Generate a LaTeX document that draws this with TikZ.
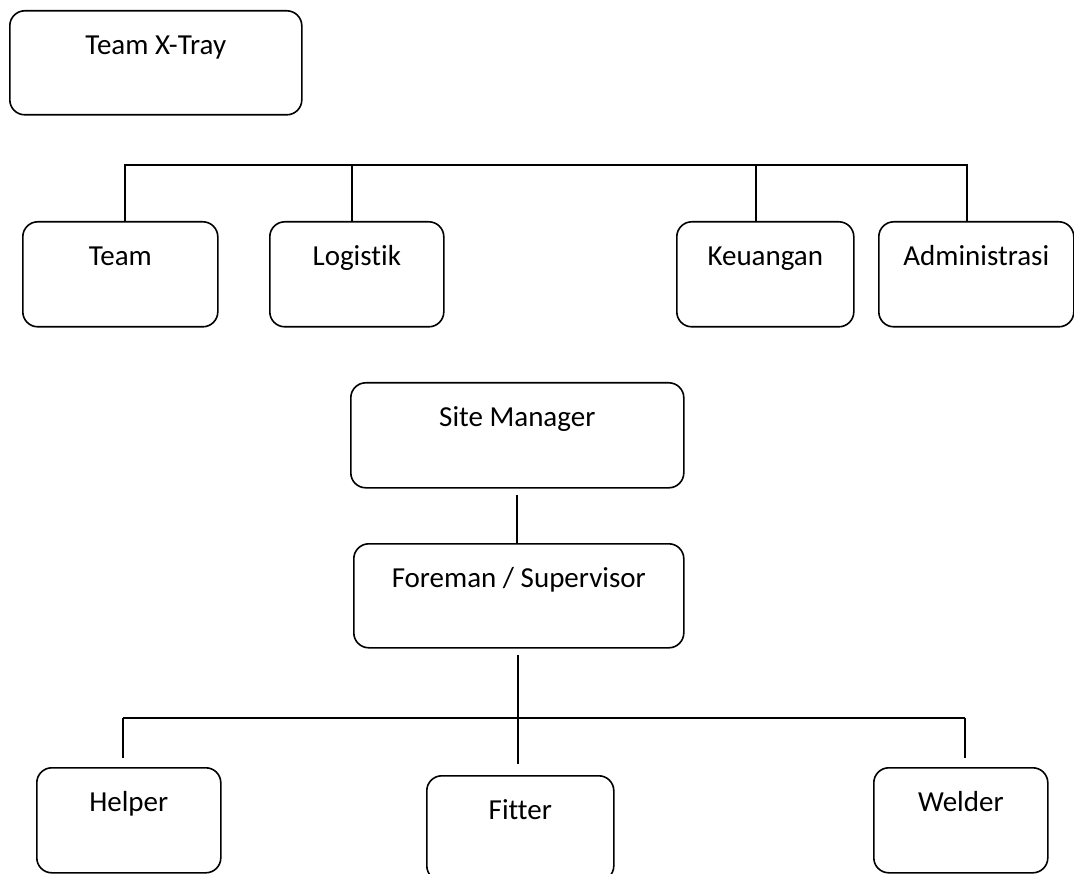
\documentclass[tikz,border=0pt]{standalone}
\usepackage{fontspec}
\setmainfont{Carlito}[Ligatures=NoCommon]
\begin{document}
\begin{tikzpicture}[x=1pt,y=-1pt,
  orgbox/.style={draw=black, line width=1.6pt, rounded corners=15pt, inner sep=0pt,
    anchor=north west, text height=44pt, text depth=61pt,
    font=\fontsize{29}{35}\selectfont},
  conn/.style={draw=black, line width=1.6pt}]
\useasboundingbox (0,0) rectangle (1074,874);
\fill[white] (0,0) rectangle (1074,874);
% boxes
\node[orgbox, minimum width=292pt, text depth=60pt] (xtray) at (9,10) {Team X-Tray};
\node[orgbox, minimum width=195pt] (team) at (22,221) {Team};
\node[orgbox, minimum width=174pt] (logistik) at (269,221) {Logistik};
\node[orgbox, minimum width=177pt] (keuangan) at (676,221) {Keuangan};
\node[orgbox, minimum width=195pt] (admin) at (878,221) {Administrasi};
\node[orgbox, minimum width=333pt] (site) at (350,382) {Site Manager};
\node[orgbox, minimum width=330pt, text depth=60pt] (foreman) at (353,543) {Foreman / Supervisor};
\node[orgbox, minimum width=184pt] (helper) at (36,767) {Helper};
\node[orgbox, minimum width=187pt] (fitter) at (426,775) {Fitter};
\node[orgbox, minimum width=174pt] (welder) at (873,767) {Welder};
% top bus
\coordinate (tA) at (125,165);
\coordinate (tB) at (352,165);
\coordinate (tC) at (756,165);
\coordinate (tD) at (967,165);
\draw[conn] (tA |- team.north) -- (tA) -- (tD) -- (tD |- admin.north);
\draw[conn] (tB) -- (tB |- logistik.north);
\draw[conn] (tC) -- (tC |- keuangan.north);
% site manager to foreman
\draw[conn] ([yshift=-6pt]site.south -| 517,0) -- (foreman.north -| 517,0);
% foreman down to workers
\coordinate (bA) at (123,718);
\coordinate (bD) at (965,718);
\coordinate (fEnd) at (518,764);
\draw[conn] ([yshift=-6pt]foreman.south -| fEnd) -- (fEnd);
\draw[conn] (bA) -- (bD);
\draw[conn] (bA) -- ([yshift=9pt]helper.north -| bA);
\draw[conn] (bD) -- ([yshift=9pt]welder.north -| bD);
\end{tikzpicture}
\end{document}
